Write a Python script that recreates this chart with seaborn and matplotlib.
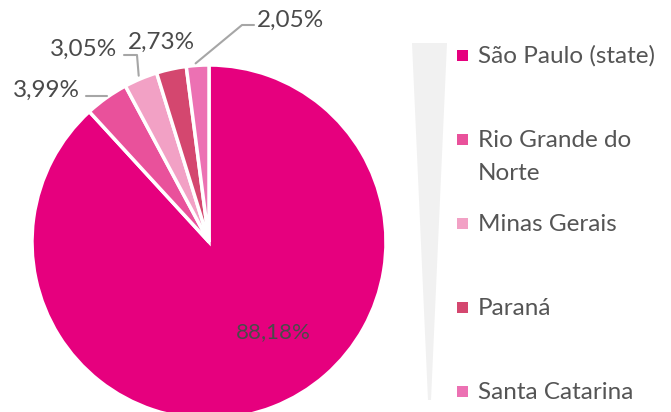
import numpy as np
import matplotlib.pyplot as plt
import seaborn as sns
from matplotlib.patches import Polygon, Rectangle
from matplotlib.lines import Line2D

# data
states = ["São Paulo (state)", "Rio Grande do\nNorte", "Minas Gerais", "Paraná", "Santa Catarina"]
shares = [88.18, 3.99, 3.05, 2.73, 2.05]
share_labels = ["88,18%", "3,99%", "3,05%", "2,73%", "2,05%"]
colors = ["#E6007E", "#E9519B", "#F2A1C5", "#D4476F", "#EC71B3"]

sns.set_theme(style="white")
plt.rcParams['font.family'] = ['Lato', 'DejaVu Sans']

W, H = 671, 412
fig = plt.figure(figsize=(W / 100, H / 100), dpi=100)
fig.patch.set_facecolor("white")


def px(x, y):
    # pixel coords from top-left -> figure fraction
    return (x / W, 1 - y / H)


# pie placement (pixels)
cx, cy, r = 209, 242, 177
pad = 1.05
ax = fig.add_axes([(cx - pad * r) / W, (H - cy - pad * r) / H, 2 * pad * r / W, 2 * pad * r / H])
wedges, _ = ax.pie(shares, colors=colors, startangle=90, counterclock=False, radius=1,
                   wedgeprops=dict(edgecolor="white", linewidth=2.5))
ax.set_xlim(-pad, pad)
ax.set_ylim(-pad, pad)
ax.set_aspect("equal")
ax.axis("off")

txt_color = "#4a4a4a"
line_color = "#a6a6a6"


def edge_point(w):
    a = np.deg2rad((w.theta1 + w.theta2) / 2)
    return (cx + r * np.cos(a), cy - r * np.sin(a))


def leader(points):
    xs, ys = zip(*[px(x, y) for x, y in points])
    fig.add_artist(Line2D(xs, ys, color=line_color, lw=1.5, transform=fig.transFigure))


# 88,18% inside
fig.text(*px(273, 332), share_labels[0], ha="center", va="center", fontsize=16,
         color=txt_color)

# Rio Grande do Norte
ex, ey = edge_point(wedges[1])
leader([(ex, ey - 2), (86, ey - 2)])
fig.text(*px(80, 97), share_labels[1], ha="right", va="baseline", fontsize=17.5, color=txt_color)

# Minas Gerais
ex, ey = edge_point(wedges[2])
leader([(ex - 2, ey - 3), (137, 55), (124, 55)])
fig.text(*px(117, 56), share_labels[2], ha="right", va="baseline", fontsize=17.5, color=txt_color)

# Paraná
fig.text(*px(161, 49), share_labels[3], ha="center", va="baseline", fontsize=17.5, color=txt_color)

# Santa Catarina
ex, ey = edge_point(wedges[4])
leader([(ex - 2, ey - 2), (242, 25), (254, 25)])
fig.text(*px(257, 27), share_labels[4], ha="left", va="baseline", fontsize=17.5, color=txt_color)

# legend backdrop wedge
fig.add_artist(Polygon([px(412, 43), px(447, 43), px(431, 400), px(428, 400)],
                       closed=True, facecolor="#f1f1f1", edgecolor="none",
                       transform=fig.transFigure))

# legend entries
for i, (name, c) in enumerate(zip(states, colors)):
    y = 55 + i * 84
    x0, y0 = px(457, y + 5.5)
    fig.add_artist(Rectangle((x0, y0), 11 / W, 11 / H, facecolor=c, edgecolor="none",
                             transform=fig.transFigure))
    for k, line in enumerate(name.split("\n")):
        fig.text(*px(478, y + 8 + k * 33), line, ha="left", va="baseline", fontsize=17.5,
                 color="#555555")

fig.savefig("out.png", dpi=100)
